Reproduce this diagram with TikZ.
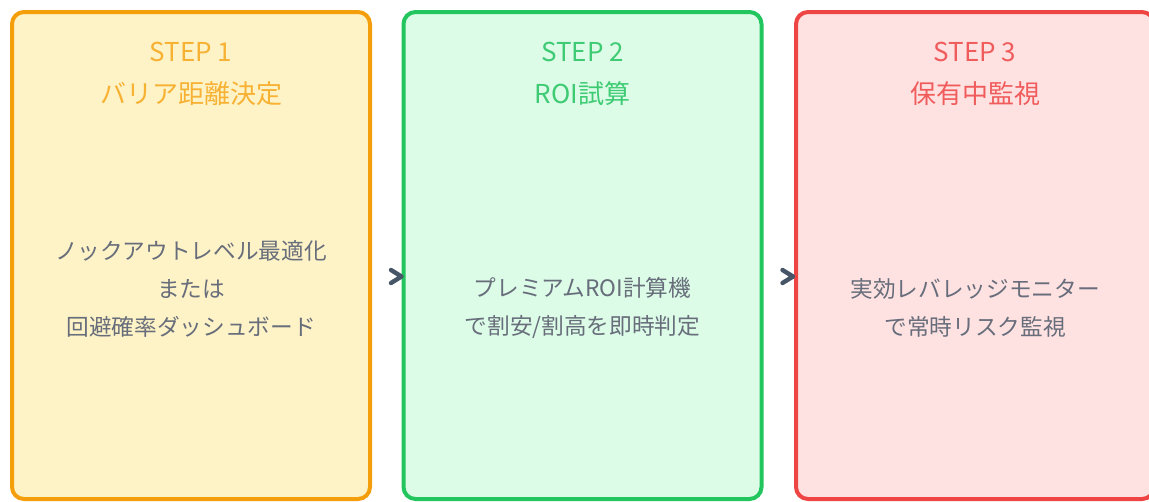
\documentclass[tikz,border=0pt]{standalone}
\usepackage{fontspec}
\setmainfont{Noto Sans CJK JP}
\usetikzlibrary{calc}
\definecolor{orangeB}{HTML}{F59E0B}
\definecolor{orangeF}{HTML}{FEF3C7}
\definecolor{orangeT}{HTML}{F7B133}
\definecolor{greenB}{HTML}{22C55E}
\definecolor{greenF}{HTML}{DCFCE7}
\definecolor{greenT}{HTML}{3FCB74}
\definecolor{redB}{HTML}{EF4444}
\definecolor{redF}{HTML}{FEE2E2}
\definecolor{redT}{HTML}{F05C5C}
\definecolor{bodytxt}{HTML}{676D7A}
\definecolor{chevc}{HTML}{475569}
\tikzset{
  stepbox/.style={rectangle, rounded corners=12*0.75pt, line width=3pt,
    minimum width=358*0.75pt, minimum height=487*0.75pt, inner sep=0pt},
  titletxt/.style={align=center, font={\fontsize{19.5}{32}\selectfont}},
  bodytext/.style={align=center, text=bodytxt, font={\fontsize{17}{28.5}\selectfont}},
  chev/.style={draw=chevc, line width=3.3pt, line cap=round, line join=round}
}
\begin{document}
\begin{tikzpicture}[x=0.75pt, y=-0.75pt]
\useasboundingbox (0,0) rectangle (1149,501);
\node[stepbox, draw=orangeB, fill=orangeF] (b1) at (191,255.5) {};
\node[stepbox, draw=greenB, fill=greenF] (b2) at (582.5,255.5) {};
\node[stepbox, draw=redB, fill=redF] (b3) at (975,255.5) {};

\node[titletxt, text=orangeT] (t1) at (191,74) {STEP 1\\バリア距離決定};
\node[titletxt, text=greenT] (t2) at (582.5,74) {STEP 2\\ROI試算};
\node[titletxt, text=redT] (t3) at (975,74) {STEP 3\\保有中監視};

\node[bodytext] (d1) at (191,289) {ノックアウトレベル最適化\\または\\回避確率ダッシュボード};
\node[bodytext] (d2) at (582.5,308) {プレミアムROI計算機\\で割安/割高を即時判定};
\node[bodytext] (d3) at (975,308) {実効レバレッジモニター\\で常時リスク監視};

\coordinate (a1) at ($(b2.west)+(0,21)$);
\coordinate (a2) at ($(b3.west)+(-1,21)$);
\draw[chev] ($(a1)+(-10.5,-6.5)$) -- (a1) -- ($(a1)+(-10.5,6.5)$);
\draw[chev] ($(a2)+(-10.5,-6.5)$) -- (a2) -- ($(a2)+(-10.5,6.5)$);
\end{tikzpicture}
\end{document}
